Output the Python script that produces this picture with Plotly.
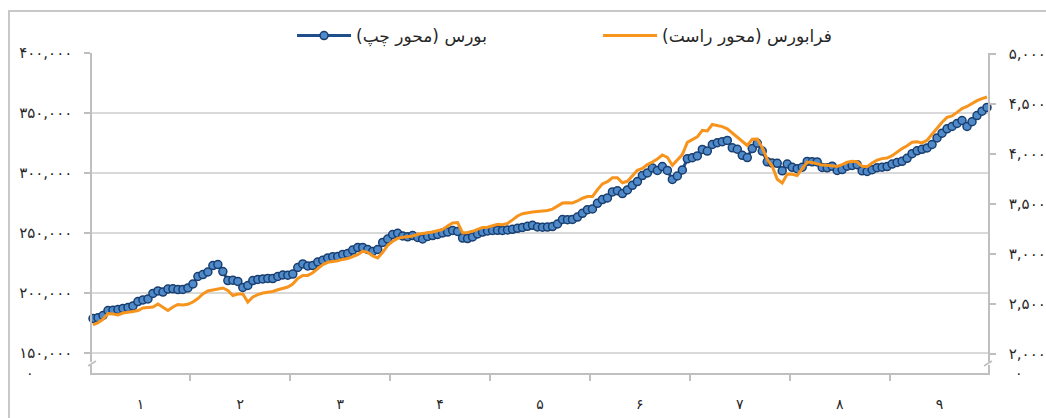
import plotly.graph_objects as go

# ---------------- data ----------------
month_labels = ["۱", "۲", "۳", "۴", "۵", "۶", "۷", "۸", "۹"]
days_per_month = 20

bourse = [
    178750, 179300, 181250, 185400, 185600, 186250, 187100, 187900, 189200, 192900,
    194200, 195000, 199600, 201700, 200800, 203300, 203500, 202900, 203000, 204200,
    207500, 213750, 215400, 217500, 222900, 223750, 217900, 210400, 210700, 209600,
    204600, 206250, 210400, 211250, 211700, 212100, 212000, 213750, 215000, 214800,
    215800, 221250, 224200, 222500, 222900, 225800, 227300, 229200, 230200, 230400,
    232100, 232900, 235800, 237900, 238000, 236250, 234600, 236250, 242100, 245000,
    248750, 249750, 247500, 246800, 247900, 246250, 245000, 247100, 247900, 248750,
    250000, 250800, 252100, 251250, 245800, 245400, 246700, 249200, 250800, 251700,
    252100, 252250, 252100, 252500, 253100, 253900, 254600, 255600, 256400, 255000,
    254800, 254900, 255400, 257500, 261250, 261100, 261300, 263300, 266400, 269400,
    270000, 274750, 277900, 279200, 284200, 285200, 282900, 285900, 289750, 292900,
    297900, 300100, 304200, 302100, 305400, 302100, 294600, 297500, 302500, 311800,
    312750, 314250, 319600, 318250, 323750, 325200, 326100, 327100, 321000, 319800,
    314750, 312900, 320400, 324800, 318300, 309300, 308250, 308100, 301800, 307500,
    304750, 303600, 304800, 309600, 309300, 309200, 304600, 304300, 305700, 302100,
    302900, 305700, 306250, 306900, 301800, 301250, 302700, 304400, 304800, 305400,
    307400, 308750, 309750, 312250, 316100, 318500, 319750, 320900, 323750, 329250,
    333200, 336800, 338750, 341250, 343750, 338800, 342700, 347900, 351500, 354600,
]

farabourse = [
    2290, 2313, 2347, 2405, 2400, 2390, 2410, 2415, 2425, 2435,
    2460, 2465, 2470, 2500, 2470, 2435, 2470, 2495, 2490, 2497,
    2520, 2555, 2600, 2630, 2640, 2647, 2660, 2635, 2585, 2600,
    2600, 2520, 2570, 2593, 2610, 2617, 2625, 2642, 2660, 2670,
    2700, 2755, 2786, 2786, 2813, 2857, 2893, 2917, 2923, 2933,
    2946, 2954, 2973, 2993, 3028, 3017, 2980, 2960, 3017, 3087,
    3127, 3156, 3167, 3170, 3180, 3197, 3203, 3210, 3220, 3233,
    3246, 3280, 3310, 3315, 3210, 3215, 3227, 3247, 3266, 3268,
    3285, 3297, 3292, 3306, 3341, 3380, 3403, 3414, 3419, 3425,
    3431, 3435, 3449, 3482, 3509, 3512, 3511, 3530, 3558, 3574,
    3574, 3642, 3701, 3724, 3763, 3763, 3713, 3727, 3784, 3837,
    3855, 3894, 3920, 3950, 3990, 3967, 3887, 3937, 3994, 4116,
    4148, 4172, 4237, 4230, 4295, 4284, 4274, 4252, 4210, 4166,
    4125, 4085, 4147, 4150, 4063, 3947, 3877, 3748, 3709, 3800,
    3798, 3784, 3853, 3920, 3914, 3898, 3889, 3888, 3884, 3876,
    3893, 3917, 3927, 3922, 3877, 3874, 3910, 3939, 3954, 3960,
    3983, 4023, 4054, 4083, 4117, 4122, 4111, 4137, 4197, 4259,
    4317, 4366, 4381, 4416, 4454, 4475, 4507, 4533, 4554, 4570,
]

left_ticks = [150000, 200000, 250000, 300000, 350000, 400000]
left_tick_text = ["۱۵۰,۰۰۰", "۲۰۰,۰۰۰", "۲۵۰,۰۰۰", "۳۰۰,۰۰۰", "۳۵۰,۰۰۰", "۴۰۰,۰۰۰"]
right_ticks = [2000, 2500, 3000, 3500, 4000, 4500, 5000]
right_tick_text = ["۲,۰۰۰", "۲,۵۰۰", "۳,۰۰۰", "۳,۵۰۰", "۴,۰۰۰", "۴,۵۰۰", "۵,۰۰۰"]

name_bourse = "بورس (محور چپ)"
name_fara = "فرابورس (محور راست)"

# ---------------- derived ----------------
days = list(range(1, len(bourse) + 1))
n_months = len(month_labels)
month_centers = [days_per_month * m + (days_per_month + 1) / 2 for m in range(n_months)]
month_bounds = [days_per_month * m + 0.5 for m in range(1, n_months)]

FONT = "DejaVu Sans"
TXT = "#262626"
AXIS = "#BFBFBF"
GRID = "#D9D9D9"

W, H = 1046, 418
L, T = 92, 53
PW, PH = 896, 320  # plot area size

fig = go.Figure()
fig.add_trace(go.Scatter(
    x=days, y=bourse, name=name_bourse, mode="lines+markers",
    line=dict(color="#1F4E8C", width=3),
    marker=dict(symbol="circle", size=8, color="#4F8BCB",
                line=dict(color="#1A3E6E", width=1.5)),
    cliponaxis=False, yaxis="y",
))
fig.add_trace(go.Scatter(
    x=days, y=farabourse, name=name_fara, mode="lines",
    line=dict(color="#F7941D", width=3),
    cliponaxis=False, yaxis="y2",
))

fig.update_layout(
    width=W, height=H,
    margin=dict(l=L, r=W - L - PW, t=T, b=H - T - PH, autoexpand=False),
    paper_bgcolor="white", plot_bgcolor="white",
    font=dict(family=FONT, color=TXT, size=14),
    showlegend=True,
    legend=dict(
        orientation="h", xref="container", yref="container",
        x=0.2792, xanchor="left", y=1 - 36 / H, yanchor="middle",
        font=dict(size=17, family=FONT, color=TXT),
        itemwidth=54, entrywidth=237, entrywidthmode="pixels",
        bgcolor="rgba(0,0,0,0)", traceorder="normal",
    ),
    xaxis=dict(
        range=[0.8, 180.2], showgrid=False, zeroline=False, automargin=False,
        showline=True, linecolor=AXIS, linewidth=1.5,
        tickmode="array", tickvals=month_centers, ticktext=month_labels,
        ticks="", ticklabelstandoff=17,
        tickfont=dict(size=14, family=FONT, color=TXT),
        minor=dict(tickmode="array", tickvals=month_bounds, ticks="outside",
                   ticklen=6, tickcolor=AXIS, tickwidth=1.5, showgrid=False),
    ),
    yaxis=dict(
        range=[133333, 400000], showgrid=True, gridcolor=GRID, gridwidth=1.5,
        zeroline=False, showline=True, linecolor=AXIS, linewidth=1.5,
        automargin=False,
        tickmode="array", tickvals=left_ticks, ticktext=left_tick_text,
        ticks="outside", ticklen=6, tickcolor=AXIS, tickwidth=1.5,
        ticklabelstandoff=9,
        tickfont=dict(size=15, family=FONT, color=TXT),
    ),
    yaxis2=dict(
        range=[1810, 5010], overlaying="y", side="right", showgrid=False,
        zeroline=False, showline=True, linecolor=AXIS, linewidth=1.5,
        automargin=False,
        tickmode="array", tickvals=right_ticks, ticktext=right_tick_text,
        ticks="outside", ticklen=6, tickcolor=AXIS, tickwidth=1.5,
        ticklabelstandoff=10,
        tickfont=dict(size=15, family=FONT, color=TXT),
    ),
)

# outer chart border (top and left visible, as in reference)
fig.add_shape(type="rect", xref="paper", yref="paper",
              x0=-83 / PW, x1=(W + 30 - L) / PW,
              y0=-(H + 30 - (T + PH)) / PH, y1=(T + PH - 11) / PH,
              line=dict(color="#C8C8C8", width=2), fillcolor="rgba(0,0,0,0)",
              layer="below")

# axis break marks
for xp in (0.0, 1.0):
    fig.add_shape(type="rect", xref="paper", yref="paper",
                  x0=xp - 4 / PW, x1=xp + 4 / PW,
                  y0=8 / PH, y1=11 / PH,
                  line=dict(width=0), fillcolor="white", layer="above")
    fig.add_shape(type="line", xref="paper", yref="paper",
                  x0=xp - 4 / PW, x1=xp + 4 / PW,
                  y0=7 / PH, y1=12 / PH,
                  line=dict(color=AXIS, width=1.5), layer="above")

# zero labels under the broken axes
fig.add_annotation(text="۰", xref="paper", yref="paper",
                   x=-68 / PW, y=0.0, xanchor="left", yanchor="middle",
                   showarrow=False, font=dict(size=14, family=FONT, color=TXT))
fig.add_annotation(text="۰", xref="paper", yref="paper",
                   x=1 + 25 / PW, y=0.0, xanchor="left", yanchor="middle",
                   showarrow=False, font=dict(size=14, family=FONT, color=TXT))

# remove the browser's default 8px page margin so the figure fills the window
fig.write_html(
    "out.html",
    config={"displayModeBar": False},
    post_script="document.body.style.margin='0';document.body.style.overflow='hidden';",
)
